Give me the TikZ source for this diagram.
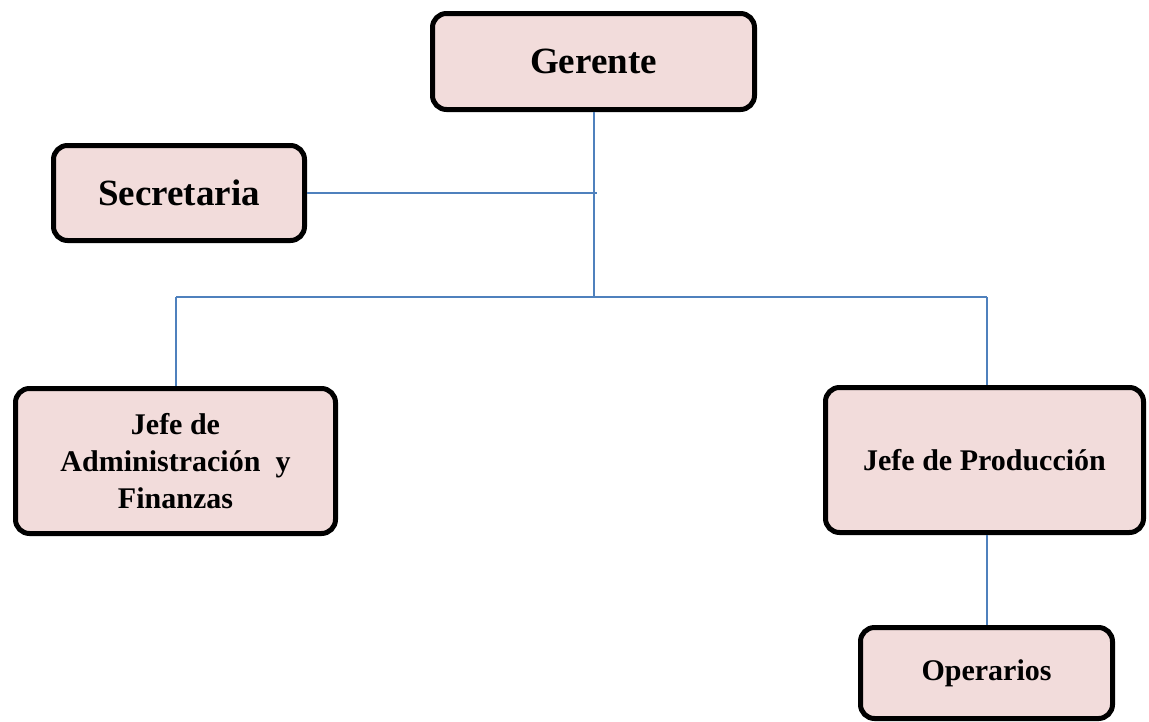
\documentclass[tikz,border=0pt]{standalone}
\usepackage{fontspec}
\setmainfont{Liberation Serif}
\definecolor{boxfill}{HTML}{F2DCDB}
\definecolor{conn}{HTML}{4F81BD}
\tikzset{
  orgbox/.style={draw=black, line width=5pt, fill=boxfill, rounded corners=14pt, align=center, inner sep=0pt, font=\bfseries},
  big/.style={font=\fontsize{37}{44}\selectfont\bfseries},
  small/.style={font=\fontsize{30}{37}\selectfont\bfseries},
  link/.style={draw=conn, line width=2pt}
}
\begin{document}
\begin{tikzpicture}[x=1pt,y=-1pt]
\useasboundingbox (0,0) rectangle (1149,721);
\node[orgbox,big,minimum width=322pt,minimum height=96pt] (ger) at (593.5,61.5) {Gerente};
\node[orgbox,big,minimum width=251pt,minimum height=95pt] (sec) at (179,193) {Secretaria};
\node[orgbox,small,minimum width=320pt,minimum height=145pt] (adm) at (175.5,461) {Jefe de\\Administración\ \ y\\Finanzas};
\node[orgbox,small,minimum width=318pt,minimum height=145pt] (prod) at (984.5,460) {Jefe de Producción};
\node[orgbox,small,minimum width=252pt,minimum height=91pt] (ope) at (986.5,673) {Operarios};
\coordinate (jn) at (593.5,297);
\coordinate (sj) at (597,193);
\coordinate (hl) at (176,297);
\coordinate (hr) at (987,297);
\draw[link] (ger.south) -- (jn);
\draw[link] (sec.east) -- (sj);
\draw[link] (hl) -- (hr);
\draw[link] (hl) -- (hl |- adm.north);
\draw[link] (hr) -- (hr |- prod.north);
\draw[link] (hr |- prod.south) -- (hr |- ope.north);
\end{tikzpicture}
\end{document}
